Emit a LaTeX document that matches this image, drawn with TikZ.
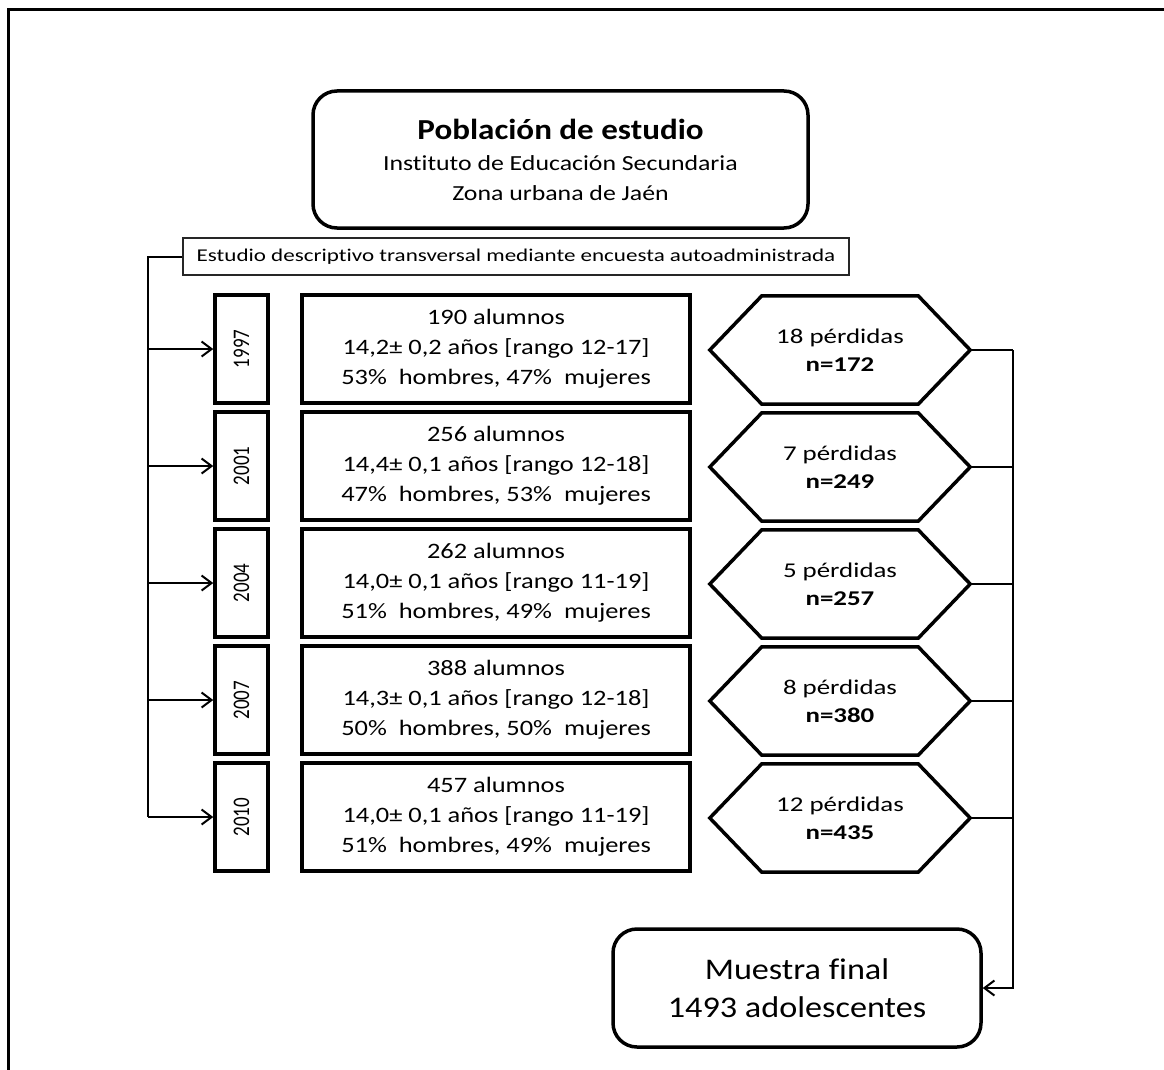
\documentclass[tikz,border=0pt]{standalone}
\usepackage{fontspec}
\usepackage{graphicx}
\setmainfont{Carlito}[Ligatures=NoCommon]
\newfontfamily\fmain{Carlito}[FakeStretch=1.2, Ligatures=NoCommon]
\newfontfamily\fwide{Carlito}[FakeStretch=1.28, Ligatures=NoCommon]
\newfontfamily\fbig{Carlito}[FakeStretch=1.14, Ligatures=NoCommon]
\newfontfamily\fplain{Carlito}[Ligatures=NoCommon]
\usetikzlibrary{arrows.meta,calc}
\begin{document}
\begin{tikzpicture}[x=1pt,y=-1pt,
  every node/.style={font=\fmain\fontsize{22}{30}\selectfont},
  thickbox/.style={draw, line width=3.5pt, align=center, inner sep=0pt},
  roundbox/.style={thickbox, rounded corners=24pt},
  studybox/.style={draw=black!85, line width=2pt, inner sep=0pt, font=\fwide\fontsize{18}{22}\selectfont},
  hexbox/.style={inner sep=0pt, align=center, minimum width=260pt, minimum height=108pt,
    font=\fwide\fontsize{21}{28}\selectfont},
  conn/.style={line width=2pt},
  arr/.style={conn, -{Straight Barb[length=10pt,width=15pt,line width=2pt]}}
]
\useasboundingbox (0,0) rectangle (1164,1070);
\draw[line width=3pt] (8,1070) -- (8,10) -- (1164,10);

\node[roundbox, minimum width=495pt, minimum height=137pt, font=\fmain\fontsize{21.5}{30}\selectfont] (pob) at (560.5,159.5)
  {{\fbig\fontsize{29}{32}\selectfont\bfseries Población de estudio}\\[1pt]
   Instituto de Educación Secundaria\\ Zona urbana de Jaén};

\node[studybox, minimum width=666pt, minimum height=37pt] (est) at (516,256.5)
  {Estudio descriptivo transversal mediante encuesta autoadministrada};

\coordinate (lx) at (148,0);
\coordinate (rx) at (1013,0);

\foreach \i/\yr/\cy/\na/\age/\hm/\los/\nn in {
  1/1997/349/190/{14,2± 0,2 años [rango 12-17]}/{53\%~ hombres, 47\%~ mujeres}/18/172,
  2/2001/466/256/{14,4± 0,1 años [rango 12-18]}/{47\%~ hombres, 53\%~ mujeres}/7/249,
  3/2004/583/262/{14,0± 0,1 años [rango 11-19]}/{51\%~ hombres, 49\%~ mujeres}/5/257,
  4/2007/700/388/{14,3± 0,1 años [rango 12-18]}/{50\%~ hombres, 50\%~ mujeres}/8/380,
  5/2010/817/457/{14,0± 0,1 años [rango 11-19]}/{51\%~ hombres, 49\%~ mujeres}/12/435}
{
  \node[thickbox, minimum width=53pt, minimum height=108pt, font=\fplain\fontsize{19}{22}\selectfont]
    (y\i) at (241.5,\cy) {\scalebox{1.25}[1]{\rotatebox{90}{\yr}}};
  \node[thickbox, minimum width=388pt, minimum height=108pt] (m\i) at (496,\cy)
    {\na{} alumnos\\ \age\\ \hm};
  \node[hexbox] (h\i) at (840,\cy+1) {\los{} pérdidas\\ \textbf{n=\nn}};
  \draw[line width=3.5pt, line join=miter]
    (h\i.west) -- ($(h\i.north west)+(52,0)$) -- ($(h\i.north east)+(-52,0)$)
    -- (h\i.east) -- ($(h\i.south east)+(-52,0)$) -- ($(h\i.south west)+(52,0)$) -- cycle;
  \draw[arr] (lx |- y\i.west) -- (y\i.west);
  \draw[conn] (h\i.east) -- (h\i.east -| rx);
}

\node[roundbox, minimum width=368pt, minimum height=118pt, font=\fbig\fontsize{30}{38}\selectfont]
  (fin) at (797,988) {Muestra final\\ 1493 adolescentes};

\draw[conn] (est.west) -- (est.west -| lx) -- (lx |- y5.west);
\draw[arr] (h1.east -| rx) -- (rx |- fin.east) -- (fin.east);
\end{tikzpicture}
\end{document}
